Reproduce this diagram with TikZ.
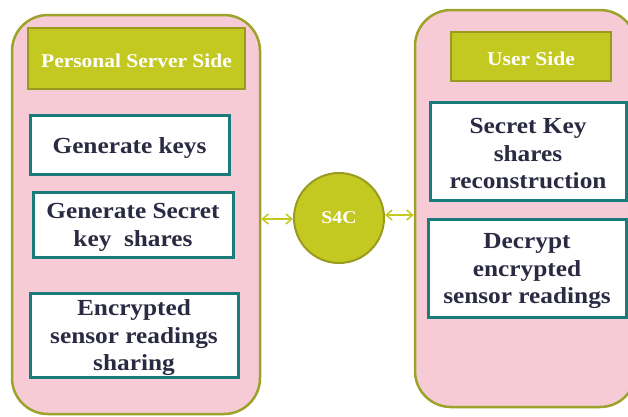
\documentclass[tikz,border=0pt]{standalone}
\usepackage{fontspec}
\setmainfont{Liberation Serif}
\newfontfamily\labelfont[FakeStretch=1.1]{Liberation Serif}
\usetikzlibrary{arrows.meta}
\definecolor{panelfill}{HTML}{F7CBD6}
\definecolor{paneledge}{HTML}{9CA22A}
\definecolor{headfill}{HTML}{C4C922}
\definecolor{headedge}{HTML}{999B1E}
\definecolor{boxedge}{HTML}{1B7B7B}
\definecolor{boxtext}{HTML}{2A2A42}
\tikzset{
  panel/.style={draw=paneledge, fill=panelfill, line width=2.5pt, rounded corners=36pt},
  header/.style={draw=headedge, fill=headfill, line width=2.5pt},
  headtext/.style={text=white, inner sep=0pt, yshift=-2pt,
    font=\labelfont\bfseries\fontsize{19.5}{23}\selectfont},
  stepbox/.style={draw=boxedge, fill=white, line width=3pt},
  steptext/.style={text=boxtext, align=center, inner sep=0pt, yshift=-3pt,
    font=\labelfont\bfseries\fontsize{23}{27.5}\selectfont},
  hub/.style={circle, draw=headedge, fill=headfill, line width=2pt, text=white,
    minimum size=90pt, inner sep=0pt, font=\labelfont\bfseries\fontsize{18}{22}\selectfont},
  link/.style={draw=headfill, line width=1.5pt, {Straight Barb[length=6pt,width=10pt]}-{Straight Barb[length=6pt,width=10pt]}}
}
\begin{document}
\begin{tikzpicture}[x=1pt,y=-1pt]
  \useasboundingbox (0,0) rectangle (628,416);
  \clip (0,0) rectangle (628,416);

  % the two sides
  \node[panel, minimum width=248pt, minimum height=399pt] (server) at (136,214.5) {};
  \node[panel, minimum width=221pt, minimum height=397pt] (user) at (525.5,208.5) {};

  % side titles
  \node[header, minimum width=217pt, minimum height=61pt] (serverhead) at (136.5,58.5) {};
  \node[headtext] at (serverhead.center) {Personal Server Side};
  \node[header, minimum width=160pt, minimum height=49pt] (userhead) at (531,56.5) {};
  \node[headtext] at (userhead.center) {User Side};

  % server side steps
  \node[stepbox, minimum width=199pt, minimum height=59pt] (genkeys) at (129.5,144.5) {};
  \node[steptext] at (genkeys.center) {Generate keys};
  \node[stepbox, minimum width=200pt, minimum height=65pt] (genshares) at (133,224.5) {};
  \node[steptext] at (genshares.center) {Generate Secret\\key\ \ shares};
  \node[stepbox, minimum width=208pt, minimum height=84pt] (share) at (134,335) {};
  \node[steptext] at (share.center) {Encrypted\\sensor readings\\sharing};

  % user side steps
  \node[stepbox, minimum width=196pt, minimum height=98pt] (rebuild) at (528,151) {};
  \node[steptext] at (rebuild.center) {Secret Key\\shares\\reconstruction};
  \node[stepbox, minimum width=198pt, minimum height=98pt] (decrypt) at (527,268) {};
  \node[steptext] at (decrypt.center) {Decrypt\\encrypted\\sensor readings};

  % central hub and its links
  \node[hub] (hub) at (339,218) {S4C};
  \coordinate (serveredge) at (server.east |- 0,219);
  \coordinate (useredge) at (user.west |- 0,215);
  \draw[link] (serveredge) -- (hub.west |- serveredge);
  \draw[link] (hub.east |- useredge) -- (useredge);
\end{tikzpicture}
\end{document}
